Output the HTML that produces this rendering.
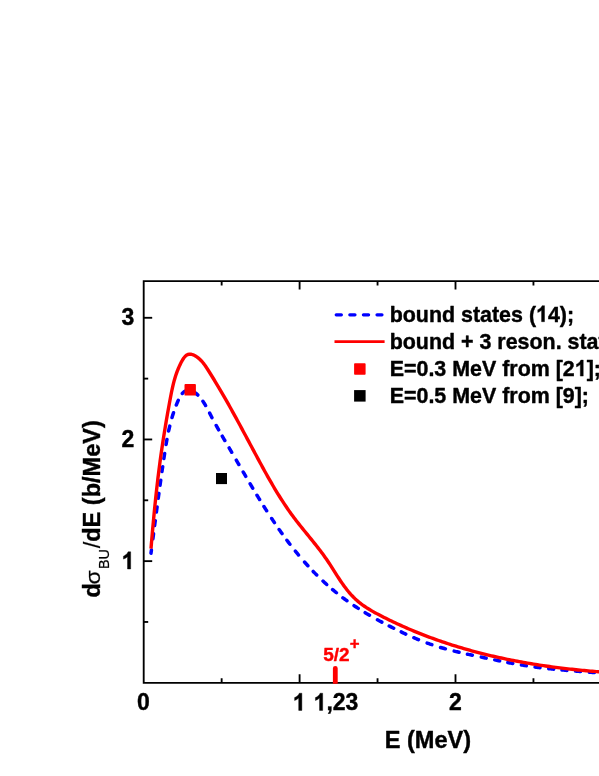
<!DOCTYPE html>
<html><head><meta charset="utf-8"><title>chart</title>
<style>
html,body{margin:0;padding:0;background:#fff;}
text{font-kerning:none;}
body{width:599px;height:776px;position:relative;overflow:hidden;font-family:"Liberation Sans",sans-serif;}
</style></head><body>
<svg width="599" height="776" viewBox="0 0 599 776" style="display:block;position:absolute;left:0;top:0;will-change:transform">
<rect x="0" y="0" width="599" height="776" fill="#ffffff"/>
<g stroke="#000" stroke-width="1.85" fill="none" stroke-linecap="butt">
<path d="M604,281.1 L143.7,281.1 L143.7,682.8 L604,682.8" stroke-linejoin="miter"/>
<path d="M221.65,682.8 V678.3 M221.65,281.1 V285.6"/>
<path d="M299.6,682.8 V674.3 M299.6,281.1 V289.6"/>
<path d="M377.55,682.8 V678.3 M377.55,281.1 V285.6"/>
<path d="M455.5,682.8 V674.3 M455.5,281.1 V289.6"/>
<path d="M533.45,682.8 V678.3 M533.45,281.1 V285.6"/>
<path d="M611.4,682.8 V674.3 M611.4,281.1 V289.6"/>
<path d="M143.7,621.96 H148.2"/>
<path d="M143.7,561.13 H152.2"/>
<path d="M143.7,500.29 H148.2"/>
<path d="M143.7,439.46 H152.2"/>
<path d="M143.7,378.62 H148.2"/>
<path d="M143.7,317.79 H152.2"/>
</g>
<path d="M151.00,553.20 L151.08,552.57 L151.17,551.93 L151.25,551.30 L151.34,550.66 L151.42,550.03 M152.90,538.77 L153.03,537.78 L153.16,536.79 L153.29,535.80 L153.42,534.80 L153.55,533.81 M154.62,525.61 L154.75,524.62 L154.88,523.63 L155.01,522.63 L155.14,521.64 L155.27,520.65 M156.42,511.97 L156.55,510.98 L156.68,509.99 L156.81,509.00 L156.94,508.01 L157.08,507.02 M158.24,498.34 L158.38,497.35 L158.51,496.36 L158.64,495.37 L158.78,494.38 L158.91,493.38 M160.04,485.19 L160.18,484.20 L160.32,483.21 L160.45,482.22 L160.59,481.23 L160.73,480.24 M161.96,471.59 L162.10,470.60 L162.25,469.61 L162.39,468.62 L162.53,467.63 L162.68,466.64 M163.88,458.48 L164.03,457.49 L164.18,456.50 L164.33,455.51 L164.48,454.52 L164.63,453.54 M166.08,444.47 L166.24,443.48 L166.41,442.50 L166.58,441.51 L166.76,440.53 L166.94,439.54 M168.63,430.96 L168.84,429.98 L169.06,429.01 L169.28,428.03 L169.51,427.06 L169.74,426.09 M172.03,417.50 L172.31,416.54 L172.60,415.59 L172.90,414.63 L173.20,413.68 L173.51,412.73 M176.31,405.01 L176.68,404.09 L177.06,403.16 L177.44,402.24 L177.84,401.32 L178.24,400.40 M182.31,393.47 L182.99,392.74 L183.73,392.06 L184.53,391.46 L185.39,390.95 L186.30,390.56 M193.95,391.89 L194.78,392.46 L195.57,393.06 L196.34,393.70 L197.09,394.37 L197.81,395.06 M202.93,401.27 L203.49,402.10 L204.03,402.94 L204.56,403.79 L205.08,404.65 L205.58,405.51 M209.65,413.14 L210.10,414.03 L210.56,414.92 L211.02,415.81 L211.48,416.70 L211.94,417.58 M216.19,425.46 L216.68,426.34 L217.16,427.21 L217.65,428.08 L218.14,428.95 L218.64,429.82 M222.28,436.17 L222.78,437.04 L223.28,437.90 L223.79,438.77 L224.29,439.63 L224.80,440.49 M229.18,447.96 L229.69,448.82 L230.19,449.68 L230.70,450.54 L231.21,451.41 L231.71,452.27 M236.32,460.17 L236.82,461.03 L237.33,461.90 L237.83,462.76 L238.33,463.63 L238.84,464.49 M243.22,472.01 L243.72,472.88 L244.22,473.74 L244.73,474.60 L245.23,475.47 L245.74,476.33 M250.16,483.85 L250.67,484.71 L251.18,485.57 L251.69,486.43 L252.21,487.29 L252.72,488.15 M256.98,495.23 L257.50,496.08 L258.02,496.94 L258.54,497.79 L259.06,498.64 L259.58,499.50 M263.95,506.52 L264.48,507.37 L265.02,508.22 L265.55,509.06 L266.09,509.90 L266.63,510.75 M271.66,518.48 L272.21,519.32 L272.76,520.15 L273.32,520.98 L273.87,521.81 L274.43,522.64 M279.12,529.48 L279.70,530.30 L280.27,531.11 L280.85,531.93 L281.43,532.74 L282.01,533.56 M286.91,540.26 L287.51,541.06 L288.11,541.86 L288.71,542.66 L289.32,543.45 L289.93,544.25 M295.35,551.14 L295.98,551.92 L296.61,552.70 L297.24,553.47 L297.88,554.24 L298.52,555.01 M304.53,562.03 L305.19,562.78 L305.85,563.53 L306.52,564.27 L307.19,565.01 L307.87,565.75 M313.21,571.45 L313.91,572.17 L314.61,572.88 L315.31,573.60 L316.01,574.31 L316.72,575.01 M323.02,581.09 L323.75,581.77 L324.49,582.45 L325.23,583.12 L325.97,583.80 L326.71,584.47 M332.59,589.57 L333.35,590.21 L334.12,590.85 L334.89,591.49 L335.67,592.12 L336.45,592.75 M342.92,597.79 L343.72,598.39 L344.53,598.99 L345.33,599.58 L346.14,600.17 L346.95,600.75 M354.04,605.66 L354.88,606.21 L355.71,606.76 L356.55,607.31 L357.39,607.85 L358.23,608.39 M365.16,612.69 L366.02,613.20 L366.87,613.72 L367.74,614.22 L368.60,614.73 L369.46,615.23 M377.44,619.73 L378.31,620.21 L379.19,620.69 L380.07,621.17 L380.95,621.64 L381.83,622.11 M389.20,625.96 L390.09,626.42 L390.98,626.87 L391.87,627.32 L392.77,627.77 L393.66,628.22 M401.21,631.94 L402.11,632.37 L403.02,632.80 L403.92,633.22 L404.83,633.65 L405.73,634.07 M413.86,637.72 L414.78,638.11 L415.70,638.51 L416.62,638.89 L417.55,639.28 L418.47,639.66 M427.13,643.03 L428.07,643.37 L429.02,643.71 L429.96,644.04 L430.90,644.37 L431.85,644.69 M440.57,647.46 L441.53,647.74 L442.49,648.02 L443.45,648.29 L444.42,648.56 L445.38,648.83 M454.17,651.12 L455.14,651.36 L456.11,651.59 L457.08,651.82 L458.05,652.05 L459.03,652.28 M467.44,654.18 L468.41,654.39 L469.39,654.60 L470.37,654.81 L471.35,655.02 L472.33,655.23 M481.28,657.10 L482.26,657.31 L483.24,657.51 L484.22,657.72 L485.20,657.92 L486.18,658.12 M494.76,659.91 L495.74,660.11 L496.72,660.31 L497.69,660.51 L498.67,660.71 L499.65,660.91 M507.83,662.53 L508.81,662.72 L509.79,662.91 L510.78,663.09 L511.76,663.28 L512.74,663.46 M521.42,664.98 L522.41,665.15 L523.39,665.31 L524.38,665.46 L525.37,665.62 L526.36,665.77 M535.06,667.02 L536.05,667.15 L537.04,667.28 L538.03,667.40 L539.02,667.53 L540.02,667.65 M548.73,668.66 L549.72,668.76 L550.72,668.87 L551.71,668.97 L552.70,669.07 L553.70,669.17 M561.94,669.96 L562.94,670.05 L563.94,670.13 L564.93,670.22 L565.93,670.31 L566.92,670.39 M575.64,671.11 L576.63,671.19 L577.63,671.27 L578.63,671.35 L579.62,671.43 L580.62,671.50 M589.32,672.17 L590.32,672.25 L591.31,672.32 L592.31,672.40 L593.31,672.48 L594.30,672.55 M602.88,673.23 L603.59,673.29 L604.29,673.34 L605.00,673.40" fill="none" stroke="#0000ff" stroke-width="3.5" stroke-linecap="round"/>
<path d="M151.00,548.60 L151.17,546.55 L151.34,544.51 L151.51,542.47 L151.69,540.42 L151.86,538.38 L152.04,536.34 L152.22,534.31 L152.40,532.27 L152.58,530.23 L152.76,528.20 L152.94,526.16 L153.13,524.13 L153.32,522.10 L153.51,520.07 L153.70,518.04 L153.89,516.01 L154.09,513.98 L154.28,511.95 L154.48,509.92 L154.69,507.89 L154.89,505.87 L155.10,503.84 L155.31,501.82 L155.52,499.79 L155.73,497.77 L155.95,495.74 L156.17,493.72 L156.39,491.70 L156.61,489.67 L156.84,487.65 L157.07,485.63 L157.30,483.60 L157.54,481.58 L157.78,479.56 L158.02,477.54 L158.27,475.51 L158.52,473.49 L158.77,471.47 L159.03,469.44 L159.29,467.42 L159.55,465.40 L159.82,463.37 L160.09,461.35 L160.36,459.32 L160.64,457.30 L160.92,455.27 L161.21,453.25 L161.49,451.22 L161.79,449.20 L162.09,447.17 L162.39,445.14 L162.69,443.11 L163.00,441.08 L163.32,439.06 L163.63,437.03 L163.96,435.00 L164.28,432.97 L164.61,430.95 L164.94,428.92 L165.27,426.90 L165.61,424.87 L165.95,422.85 L166.29,420.83 L166.64,418.81 L166.99,416.79 L167.34,414.78 L167.69,412.76 L168.05,410.75 L168.41,408.74 L168.77,406.73 L169.14,404.73 L169.50,402.73 L169.87,400.73 L170.24,398.73 L170.62,396.74 L171.00,394.75 L171.39,392.77 L171.80,390.78 L172.22,388.81 L172.66,386.83 L173.12,384.86 L173.61,382.90 L174.13,380.93 L174.68,378.98 L175.27,377.02 L175.89,375.08 L176.56,373.13 L177.27,371.20 L178.03,369.27 L178.84,367.34 L179.70,365.42 L180.62,363.50 L181.60,361.59 L182.65,359.74 L183.79,358.02 L185.03,356.51 L186.38,355.30 L187.87,354.47 L189.51,354.10 L191.29,354.25 L193.16,354.83 L195.03,355.74 L196.82,356.86 L198.48,358.12 L200.02,359.49 L201.46,360.95 L202.80,362.50 L204.07,364.12 L205.27,365.79 L206.43,367.51 L207.56,369.24 L208.67,370.99 L209.77,372.74 L210.86,374.49 L211.95,376.24 L213.03,378.00 L214.11,379.75 L215.17,381.51 L216.24,383.27 L217.29,385.03 L218.34,386.79 L219.38,388.55 L220.42,390.31 L221.45,392.08 L222.48,393.84 L223.50,395.61 L224.52,397.38 L225.53,399.14 L226.54,400.91 L227.54,402.69 L228.54,404.46 L229.54,406.23 L230.53,408.01 L231.52,409.78 L232.50,411.56 L233.49,413.34 L234.46,415.12 L235.44,416.90 L236.42,418.68 L237.39,420.46 L238.36,422.24 L239.33,424.03 L240.29,425.81 L241.26,427.60 L242.22,429.39 L243.18,431.18 L244.14,432.96 L245.10,434.75 L246.06,436.55 L247.02,438.34 L247.98,440.13 L248.94,441.92 L249.90,443.72 L250.86,445.51 L251.82,447.31 L252.78,449.11 L253.75,450.91 L254.71,452.70 L255.68,454.50 L256.64,456.30 L257.61,458.10 L258.58,459.91 L259.56,461.71 L260.53,463.51 L261.51,465.31 L262.49,467.11 L263.48,468.91 L264.47,470.71 L265.46,472.50 L266.46,474.29 L267.47,476.08 L268.48,477.87 L269.49,479.66 L270.51,481.44 L271.54,483.22 L272.57,484.99 L273.61,486.76 L274.66,488.52 L275.71,490.28 L276.77,492.03 L277.84,493.78 L278.92,495.52 L280.00,497.26 L281.10,498.98 L282.20,500.70 L283.32,502.42 L284.44,504.12 L285.58,505.82 L286.72,507.51 L287.88,509.19 L289.04,510.86 L290.22,512.52 L291.41,514.17 L292.61,515.81 L293.82,517.44 L295.05,519.06 L296.29,520.68 L297.53,522.28 L298.79,523.88 L300.05,525.47 L301.32,527.05 L302.59,528.63 L303.87,530.21 L305.15,531.78 L306.43,533.35 L307.71,534.93 L309.00,536.50 L310.28,538.07 L311.56,539.65 L312.84,541.23 L314.11,542.81 L315.38,544.40 L316.64,545.99 L317.89,547.60 L319.14,549.20 L320.37,550.82 L321.59,552.45 L322.80,554.09 L324.00,555.74 L325.19,557.40 L326.36,559.08 L327.51,560.77 L328.65,562.47 L329.77,564.19 L330.89,565.91 L331.99,567.64 L333.10,569.38 L334.20,571.11 L335.30,572.85 L336.40,574.58 L337.51,576.31 L338.63,578.03 L339.75,579.74 L340.89,581.44 L342.05,583.13 L343.22,584.79 L344.42,586.44 L345.64,588.07 L346.88,589.67 L348.15,591.25 L349.46,592.80 L350.79,594.32 L352.15,595.80 L353.55,597.25 L354.99,598.66 L356.46,600.03 L357.98,601.36 L359.53,602.65 L361.12,603.89 L362.75,605.10 L364.42,606.26 L366.11,607.40 L367.83,608.50 L369.58,609.57 L371.34,610.62 L373.13,611.64 L374.93,612.64 L376.75,613.63 L378.57,614.59 L380.40,615.54 L382.24,616.49 L384.08,617.42 L385.92,618.34 L387.77,619.25 L389.62,620.16 L391.47,621.05 L393.32,621.94 L395.18,622.81 L397.04,623.68 L398.90,624.53 L400.76,625.38 L402.63,626.22 L404.50,627.05 L406.37,627.87 L408.25,628.69 L410.13,629.49 L412.01,630.28 L413.89,631.07 L415.77,631.85 L417.66,632.61 L419.55,633.37 L421.45,634.13 L423.34,634.87 L425.24,635.60 L427.14,636.33 L429.04,637.04 L430.95,637.75 L432.86,638.45 L434.77,639.14 L436.68,639.83 L438.60,640.50 L440.52,641.17 L442.44,641.83 L444.37,642.48 L446.29,643.12 L448.22,643.76 L450.15,644.39 L452.09,645.01 L454.02,645.62 L455.96,646.22 L457.91,646.82 L459.85,647.40 L461.80,647.98 L463.75,648.56 L465.70,649.12 L467.65,649.68 L469.61,650.23 L471.57,650.77 L473.53,651.30 L475.49,651.83 L477.46,652.35 L479.43,652.86 L481.40,653.37 L483.37,653.87 L485.35,654.36 L487.33,654.84 L489.31,655.32 L491.29,655.79 L493.28,656.25 L495.27,656.71 L497.26,657.16 L499.25,657.60 L501.25,658.03 L503.25,658.46 L505.25,658.88 L507.25,659.30 L509.25,659.71 L511.26,660.11 L513.27,660.50 L515.28,660.89 L517.29,661.28 L519.31,661.65 L521.32,662.02 L523.34,662.38 L525.36,662.74 L527.38,663.09 L529.40,663.43 L531.42,663.77 L533.45,664.10 L535.47,664.43 L537.50,664.75 L539.53,665.06 L541.55,665.37 L543.58,665.67 L545.61,665.97 L547.64,666.26 L549.68,666.54 L551.71,666.82 L553.74,667.09 L555.77,667.36 L557.81,667.62 L559.84,667.88 L561.87,668.13 L563.91,668.37 L565.94,668.61 L567.97,668.85 L570.01,669.08 L572.04,669.30 L574.07,669.52 L576.11,669.73 L578.14,669.94 L580.17,670.14 L582.20,670.34 L584.23,670.53 L586.26,670.72 L588.29,670.90 L590.32,671.08 L592.35,671.25 L594.37,671.42 L596.40,671.58 L598.42,671.74 L600.44,671.89 L602.47,672.04 L604.49,672.19" fill="none" stroke="#ff0000" stroke-width="3.4" stroke-linejoin="round"/>
<rect x="184.5" y="384.0" width="11.4" height="11.6" rx="0.9" fill="#ff0000"/>
<rect x="216.0" y="473.0" width="11.0" height="11.1" fill="#000000"/>
<path d="M332.9,683.8 V668.3 A2.4,2.4 0 0 1 337.7,668.3 V683.8 Z" fill="#ff0000"/>
<path d="M336.2,314.8 H382" stroke="#0000ff" stroke-width="3.2" stroke-dasharray="5.2 8.4" stroke-linecap="round" fill="none"/>
<path d="M334.5,341.6 H384.6" stroke="#ff0000" stroke-width="2.6" fill="none"/>
<rect x="354.1" y="363.3" width="11.5" height="11.5" rx="0.8" fill="#ff0000"/>
<rect x="354.1" y="390.1" width="11.5" height="11.5" fill="#000000"/>
<text font-family="Liberation Sans, sans-serif" font-weight="bold" font-size="21.42" fill="#000" stroke="#000" stroke-width="0.4" stroke-linejoin="round" text-anchor="start" transform="translate(389.7,321.7) scale(1,1.04)">bound states (<tspan visibility="hidden">1</tspan>4);</text>
<path d="M806,0 L525,0 L525,1059 Q371,915 162,846 L162,1101 Q272,1137 401,1237 Q530,1338 578,1472 L806,1472 Z" fill="#000" stroke="#000" stroke-width="0.4" vector-effect="non-scaling-stroke" stroke-linejoin="round" transform="translate(536.07,321.7) scale(0.01046,-0.01088)"/>
<text font-family="Liberation Sans, sans-serif" font-weight="bold" font-size="21.42" fill="#000" stroke="#000" stroke-width="0.4" stroke-linejoin="round" text-anchor="start" transform="translate(389.7,348.5) scale(1,1.04)">bound + 3 reson. states</text>
<text font-family="Liberation Sans, sans-serif" font-weight="bold" font-size="21.42" fill="#000" stroke="#000" stroke-width="0.4" stroke-linejoin="round" text-anchor="start" transform="translate(389.7,376.1) scale(1,1.04)">E=0.3 MeV from [2<tspan visibility="hidden">1</tspan>];</text>
<path d="M806,0 L525,0 L525,1059 Q371,915 162,846 L162,1101 Q272,1137 401,1237 Q530,1338 578,1472 L806,1472 Z" fill="#000" stroke="#000" stroke-width="0.4" vector-effect="non-scaling-stroke" stroke-linejoin="round" transform="translate(574.81,376.1) scale(0.01046,-0.01088)"/>
<text font-family="Liberation Sans, sans-serif" font-weight="bold" font-size="21.42" fill="#000" stroke="#000" stroke-width="0.4" stroke-linejoin="round" text-anchor="start" transform="translate(389.7,402.9) scale(1,1.04)">E=0.5 MeV from [9];</text>
<text font-family="Liberation Sans, sans-serif" font-weight="bold" font-size="23" fill="#000" stroke="#000" stroke-width="0.4" stroke-linejoin="round" text-anchor="middle" transform="translate(143.4,710.4) scale(1,1.04)">0</text>
<text font-family="Liberation Sans, sans-serif" font-weight="bold" font-size="23" fill="#000" stroke="#000" stroke-width="0.4" stroke-linejoin="round" text-anchor="middle" transform="translate(299.2,710.4) scale(1,1.04)"><tspan visibility="hidden">1</tspan></text>
<path d="M806,0 L525,0 L525,1059 Q371,915 162,846 L162,1101 Q272,1137 401,1237 Q530,1338 578,1472 L806,1472 Z" fill="#000" stroke="#000" stroke-width="0.4" vector-effect="non-scaling-stroke" stroke-linejoin="round" transform="translate(292.80,710.4) scale(0.01123,-0.01168)"/>
<text font-family="Liberation Sans, sans-serif" font-weight="bold" font-size="23" fill="#000" stroke="#000" stroke-width="0.4" stroke-linejoin="round" text-anchor="middle" transform="translate(336.0,710.4) scale(1,1.04)"><tspan visibility="hidden">1</tspan>,23</text>
<path d="M806,0 L525,0 L525,1059 Q371,915 162,846 L162,1101 Q272,1137 401,1237 Q530,1338 578,1472 L806,1472 Z" fill="#000" stroke="#000" stroke-width="0.4" vector-effect="non-scaling-stroke" stroke-linejoin="round" transform="translate(313.62,710.4) scale(0.01123,-0.01168)"/>
<text font-family="Liberation Sans, sans-serif" font-weight="bold" font-size="23" fill="#000" stroke="#000" stroke-width="0.4" stroke-linejoin="round" text-anchor="middle" transform="translate(455.4,710.4) scale(1,1.04)">2</text>
<text font-family="Liberation Sans, sans-serif" font-weight="bold" font-size="23" fill="#000" stroke="#000" stroke-width="0.4" stroke-linejoin="round" text-anchor="end" transform="translate(134.4,569) scale(1,1.04)"><tspan visibility="hidden">1</tspan></text>
<path d="M806,0 L525,0 L525,1059 Q371,915 162,846 L162,1101 Q272,1137 401,1237 Q530,1338 578,1472 L806,1472 Z" fill="#000" stroke="#000" stroke-width="0.4" vector-effect="non-scaling-stroke" stroke-linejoin="round" transform="translate(121.61,569) scale(0.01123,-0.01168)"/>
<text font-family="Liberation Sans, sans-serif" font-weight="bold" font-size="23" fill="#000" stroke="#000" stroke-width="0.4" stroke-linejoin="round" text-anchor="end" transform="translate(134.4,447.2) scale(1,1.04)">2</text>
<text font-family="Liberation Sans, sans-serif" font-weight="bold" font-size="23" fill="#000" stroke="#000" stroke-width="0.4" stroke-linejoin="round" text-anchor="end" transform="translate(134.4,325.4) scale(1,1.04)">3</text>
<text font-family="Liberation Sans, sans-serif" font-weight="bold" font-size="23.6" fill="#000" stroke="#000" stroke-width="0.4" stroke-linejoin="round" text-anchor="middle" transform="translate(427.9,747.5) scale(1,1.04)">E (MeV)</text>
<g transform="translate(100.4,597.6) rotate(-90)" fill="#000">
<text font-family="Liberation Sans, sans-serif" font-weight="bold" font-size="23.4" x="0" y="0" stroke="#000" stroke-width="0.4">d</text>
<text font-family="Liberation Sans, sans-serif" font-weight="normal" font-size="23" transform="translate(13.2,0) scale(1,0.88)" stroke="#000" stroke-width="0.3">σ</text>
<text font-family="Liberation Sans, sans-serif" font-weight="normal" font-size="14.3" x="28.6" y="8.2" stroke="#000" stroke-width="0.2">BU</text>
<text font-family="Liberation Sans, sans-serif" font-weight="normal" font-size="23.4" x="49.4" y="0" stroke="#000" stroke-width="0.2">/</text>
<text font-family="Liberation Sans, sans-serif" font-weight="bold" font-size="23.55" x="55.8" y="0" stroke="#000" stroke-width="0.4">dE (b/MeV)</text>
</g>
<text font-family="Liberation Sans, sans-serif" font-weight="bold" font-size="19" fill="#ff0000" stroke="#ff0000" stroke-width="0.4" stroke-linejoin="round" text-anchor="start" transform="translate(323.2,660.8) scale(1,0.98)">5/2</text>
<text font-family="Liberation Sans, sans-serif" font-weight="bold" font-size="16.8" fill="#ff0000" stroke="#ff0000" stroke-width="0.4" stroke-linejoin="round" text-anchor="middle" transform="translate(354.7,649.4) scale(1,1.0)">+</text>
</svg>
</body></html>
